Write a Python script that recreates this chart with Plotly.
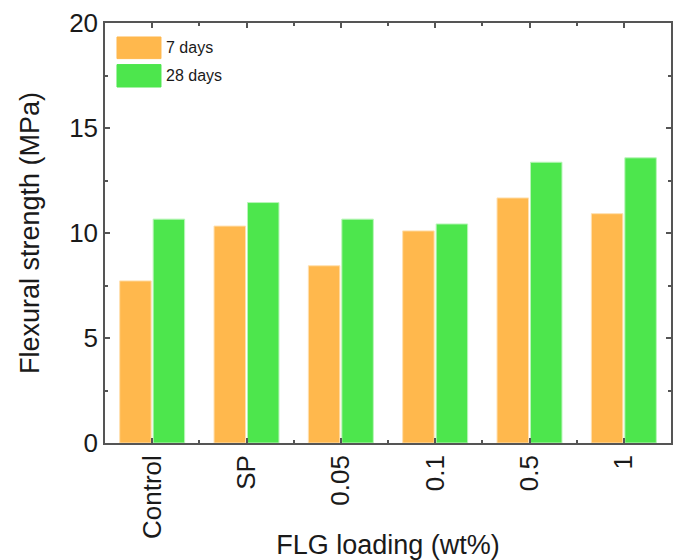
import plotly.graph_objects as go

categories = ["Control", "SP", "0.05", "0.1", "0.5", "1"]
days7 = [7.72, 10.33, 8.44, 10.1, 11.67, 10.92]
days28 = [10.66, 11.45, 10.66, 10.43, 13.37, 13.58]
series_names = ["7 days", "28 days"]
colors = ["#FFB84D", "#4DE64D"]
edge_colors = ["#FFE0B0", "#B8F5B8"]
y_ticks = [0, 5, 10, 15, 20]

xpos = list(range(len(categories)))
FONT = "Liberation Sans, Arial, sans-serif"
AX = "#555555"

fig = go.Figure()
for name, vals, c, e in zip(series_names, [days7, days28], colors, edge_colors):
    fig.add_trace(go.Bar(x=xpos, y=vals, name=name, marker=dict(color=c, line=dict(color=e, width=1)),
                         showlegend=False))

fig.update_layout(
    width=682, height=560,
    margin=dict(l=105, r=11, t=23, b=117, autoexpand=False),
    plot_bgcolor="white", paper_bgcolor="white",
    barmode="group", bargap=0.29, bargroupgap=0.06,
    font=dict(family=FONT, size=25, color="#1a1a1a"),
)
fig.update_xaxes(
    range=[-0.5, len(categories) - 0.5],
    tickmode="array", tickvals=xpos, ticktext=categories, tickangle=-90,
    ticks="inside", ticklen=5, tickcolor=AX, tickwidth=1.5,
    minor=dict(tickmode="array", tickvals=[i + 0.5 for i in xpos[:-1]], ticks="inside", ticklen=3, tickcolor=AX),
    showline=True, linecolor=AX, linewidth=1.5, mirror="allticks", showgrid=False, zeroline=False,
    title=dict(text="FLG loading (wt%)", font=dict(size=27), standoff=6),
    tickfont=dict(size=26),
)
fig.update_yaxes(
    range=[0, 20], tickmode="array", tickvals=y_ticks,
    ticks="inside", ticklen=5, tickcolor=AX, tickwidth=1.5,
    minor=dict(dtick=2.5, ticks="inside", ticklen=3, tickcolor=AX),
    showline=True, linecolor=AX, linewidth=1.5, mirror="allticks", showgrid=False, zeroline=False,
    title=dict(text="Flexural strength (MPa)", font=dict(size=27), standoff=22),
    tickfont=dict(size=26),
)

# legend swatches drawn in paper coordinates
legend_boxes = [(0.9667, 0.9152), (0.901, 0.8476)]
for (name, c), (yt, yb) in zip(zip(series_names, colors), legend_boxes):
    fig.add_shape(type="rect", xref="paper", yref="paper", x0=0.0212, x1=0.0989, y0=yb, y1=yt,
                  fillcolor=c, line=dict(color=c, width=1))
    fig.add_annotation(xref="paper", yref="paper", x=0.104, y=(yt + yb) / 2, text=name, showarrow=False,
                       xanchor="left", yanchor="middle", font=dict(size=16, family=FONT, color="#1a1a1a"))

fig.write_html("out.html", config={"displayModeBar": False},
               post_script="document.body.style.margin='0';")
